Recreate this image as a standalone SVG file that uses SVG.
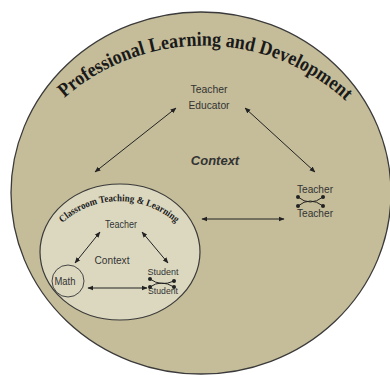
<svg xmlns="http://www.w3.org/2000/svg" width="390" height="375" viewBox="0 0 390 375">
<style>
.lbl{font-family:"Liberation Sans",Arial,sans-serif;fill:#333;}
.ttl{font-family:"Liberation Serif","Times New Roman",serif;font-weight:bold;fill:#1a1a1a;}
.con{stroke:#222;stroke-width:1;fill:none;}
</style>
<defs>
<marker id="ah" viewBox="0 0 10 10" refX="9" refY="5" markerWidth="6" markerHeight="6" orient="auto-start-reverse" markerUnits="userSpaceOnUse">
<path d="M0,1 L10,5 L0,9 z" fill="#222"/>
</marker>
<marker id="dot" viewBox="0 0 10 10" refX="5" refY="5" markerWidth="4" markerHeight="4" markerUnits="userSpaceOnUse">
<circle cx="5" cy="5" r="5" fill="#222"/>
</marker>
<path id="outerArc" d="M 62,100 A 211 211 0 0 1 348,103"/>
<path id="innerArc" d="M 58,227 A 85 85 0 0 1 180,227"/>
</defs>
<rect width="390" height="375" fill="#ffffff"/>
<g id="professional-learning">
<ellipse cx="201" cy="193" rx="190" ry="181" fill="#c5bd99" stroke="#3a3a3a" stroke-width="1.3"/>
<text class="ttl" font-size="20"><textPath href="#outerArc" startOffset="50%" text-anchor="middle" textLength="308" lengthAdjust="spacingAndGlyphs">Professional Learning  and Development</textPath></text>
<text class="lbl" x="215" y="165" font-size="13" font-style="italic" font-weight="bold" text-anchor="middle" fill="#2a2a2a">Context</text>
</g>
<g id="teacher-educator">
<text class="lbl" x="209" y="93" font-size="11" text-anchor="middle" textLength="37" lengthAdjust="spacingAndGlyphs">Teacher</text>
<text class="lbl" x="209" y="109" font-size="11" text-anchor="middle" textLength="41" lengthAdjust="spacingAndGlyphs">Educator</text>
</g>
<g id="teacher-teacher">
<text class="lbl" x="315" y="193" font-size="10" text-anchor="middle" textLength="36" lengthAdjust="spacingAndGlyphs">Teacher</text>
<text class="lbl" x="315" y="217" font-size="10" text-anchor="middle" textLength="36" lengthAdjust="spacingAndGlyphs">Teacher</text>
<path class="con" d="M298,197 Q310,207 323,197" marker-start="url(#dot)" marker-end="url(#dot)"/>
<path class="con" d="M298,206 Q310,196 323,206" marker-start="url(#dot)" marker-end="url(#dot)"/>
</g>
<g id="classroom">
<ellipse cx="120" cy="252" rx="80" ry="68" fill="#dcd8c0" stroke="#3a3a3a" stroke-width="1.2"/>
<text class="ttl" font-size="10"><textPath href="#innerArc" startOffset="50%" text-anchor="middle" textLength="124" lengthAdjust="spacingAndGlyphs">Classroom Teaching &amp; Learning</textPath></text>
<text class="lbl" x="112" y="264" font-size="10" text-anchor="middle" textLength="35" lengthAdjust="spacingAndGlyphs">Context</text>
</g>
<g id="inner-teacher">
<text class="lbl" x="121" y="228" font-size="10" text-anchor="middle" textLength="32" lengthAdjust="spacingAndGlyphs">Teacher</text>
</g>
<g id="math">
<circle cx="68" cy="281" r="16" fill="none" stroke="#444" stroke-width="1"/>
<text class="lbl" x="65" y="285" font-size="10" text-anchor="middle" textLength="21" lengthAdjust="spacingAndGlyphs">Math</text>
</g>
<g id="student-student">
<text class="lbl" x="163" y="275" font-size="9" text-anchor="middle" textLength="31" lengthAdjust="spacingAndGlyphs">Student</text>
<text class="lbl" x="163" y="294" font-size="9" text-anchor="middle" textLength="30" lengthAdjust="spacingAndGlyphs">Student</text>
<path class="con" d="M150,279 Q161,287 174,281" marker-start="url(#dot)" marker-end="url(#dot)"/>
<path class="con" d="M150,287 Q161,279 174,287" marker-start="url(#dot)" marker-end="url(#dot)"/>
</g>
<g id="connectors">
<line class="con" x1="176" y1="108" x2="95" y2="172" marker-start="url(#ah)" marker-end="url(#ah)"/>
<line class="con" x1="245" y1="108" x2="315" y2="172" marker-start="url(#ah)" marker-end="url(#ah)"/>
<line class="con" x1="202" y1="219" x2="284" y2="219" marker-start="url(#ah)" marker-end="url(#ah)"/>
<line class="con" x1="100" y1="232" x2="75" y2="263" marker-start="url(#ah)" marker-end="url(#ah)"/>
<line class="con" x1="142" y1="232" x2="168" y2="263" marker-start="url(#ah)" marker-end="url(#ah)"/>
<line class="con" x1="88" y1="288" x2="147" y2="288" stroke="#555" marker-start="url(#ah)" marker-end="url(#ah)"/>
</g>
</svg>
